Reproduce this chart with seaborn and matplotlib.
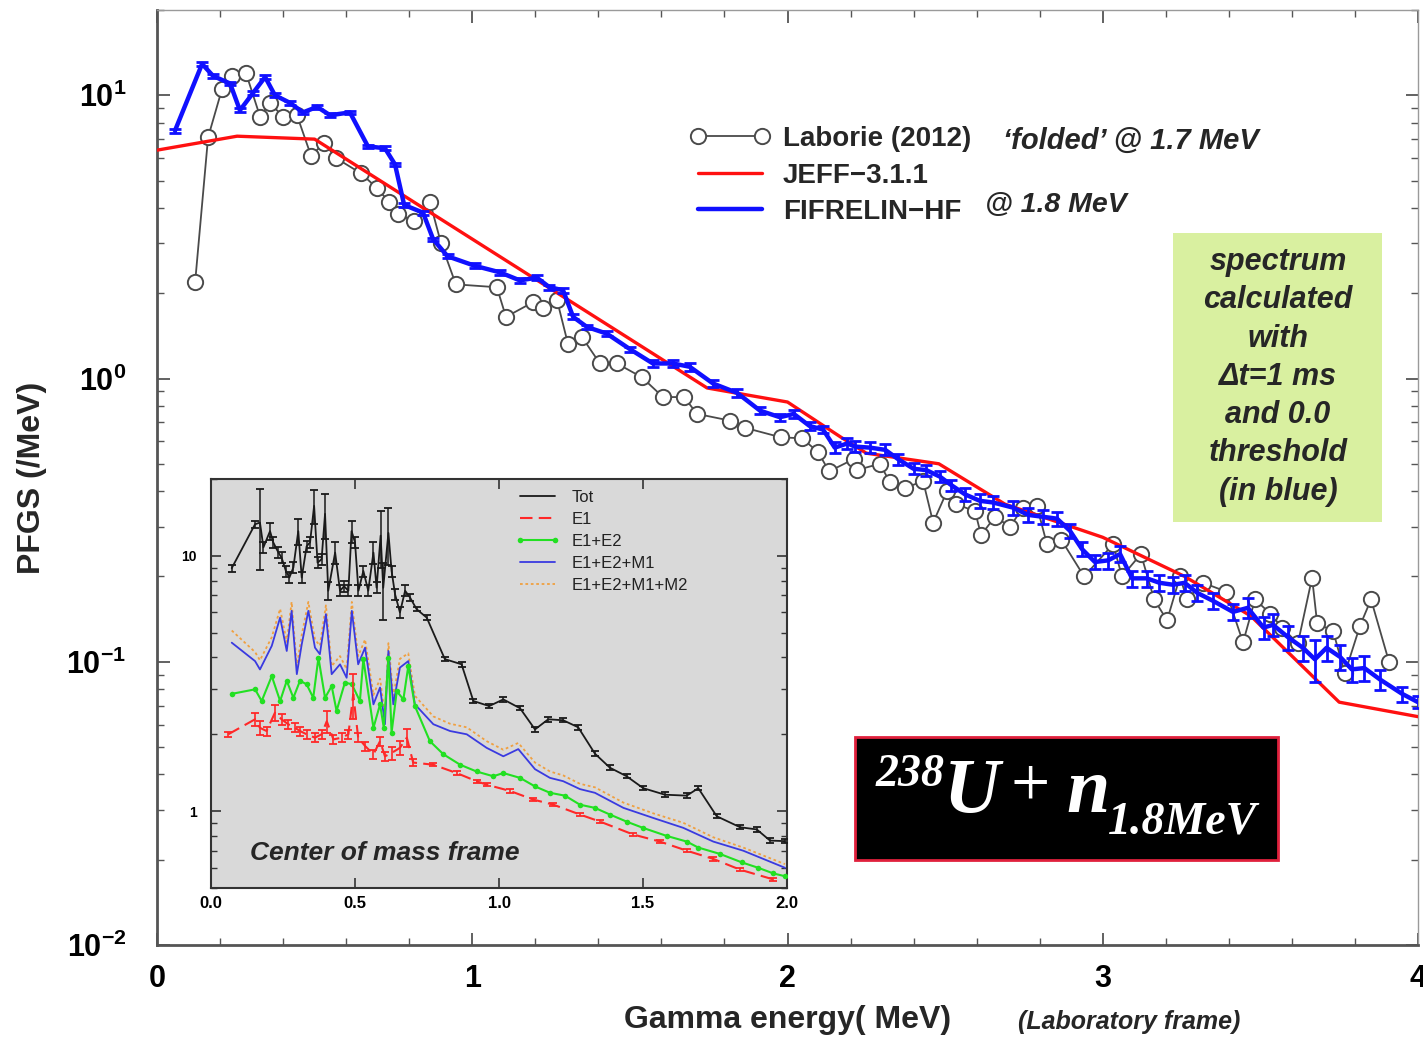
import matplotlib
matplotlib.use("Agg")
import matplotlib.pyplot as plt
import numpy as np
import pandas as pd
import seaborn as sns
from matplotlib.lines import Line2D
from matplotlib.patches import Rectangle
from matplotlib.ticker import FixedLocator, LogLocator, MultipleLocator, NullFormatter

# ---- main panel data (laboratory frame) ----
lab_e = [0.121, 0.162, 0.206, 0.238, 0.282, 0.327, 0.358, 0.400, 0.444, 0.489,
         0.530, 0.568, 0.647, 0.698, 0.736, 0.764, 0.815, 0.866, 0.901, 0.948,
         1.078, 1.107, 1.193, 1.224, 1.269, 1.304, 1.348, 1.405, 1.459, 1.538,
         1.605, 1.672, 1.713, 1.818, 1.865, 1.979, 2.046, 2.097, 2.132, 2.211,
         2.220, 2.293, 2.325, 2.373, 2.430, 2.462, 2.506, 2.535, 2.595, 2.614,
         2.658, 2.706, 2.747, 2.791, 2.823, 2.868, 2.941, 3.033, 3.061, 3.121,
         3.163, 3.204, 3.245, 3.267, 3.318, 3.391, 3.445, 3.483, 3.531, 3.569,
         3.619, 3.664, 3.680, 3.731, 3.768, 3.816, 3.851, 3.908]
lab_v = [2.19, 7.1, 10.5, 11.7, 12.0, 8.4, 9.4, 8.4, 8.5, 6.1,
         6.8, 6.0, 5.3, 4.7, 4.2, 3.8, 3.6, 4.2, 3.0, 2.15,
         2.1, 1.65, 1.86, 1.78, 1.89, 1.32, 1.40, 1.13, 1.13, 1.01,
         0.86, 0.86, 0.75, 0.71, 0.67, 0.62, 0.615, 0.55, 0.47, 0.52,
         0.475, 0.50, 0.43, 0.41, 0.435, 0.31, 0.40, 0.36, 0.34, 0.28,
         0.325, 0.30, 0.35, 0.355, 0.26, 0.27, 0.20, 0.26, 0.20, 0.24,
         0.166, 0.14, 0.20, 0.166, 0.19, 0.177, 0.117, 0.166, 0.148, 0.132,
         0.116, 0.198, 0.137, 0.128, 0.091, 0.134, 0.166, 0.10]

jeff_e = [0.0, 0.254, 0.50, 1.745, 2.0, 2.17, 2.25, 2.48, 2.69, 3.0, 3.26, 3.47, 3.75, 4.0]
jeff_v = [6.4, 7.17, 7.0, 0.926, 0.826, 0.62, 0.545, 0.50, 0.36, 0.275, 0.20, 0.145, 0.072, 0.064]

fif_e = [0.057, 0.143, 0.178, 0.232, 0.263, 0.305, 0.343, 0.374, 0.422, 0.463,
         0.508, 0.549, 0.612, 0.669, 0.723, 0.755, 0.784, 0.844, 0.876, 0.922,
         1.008, 1.088, 1.151, 1.205, 1.245, 1.288, 1.320, 1.364, 1.427, 1.500,
         1.573, 1.637, 1.690, 1.764, 1.840, 1.913, 1.976, 2.020, 2.070, 2.113,
         2.150, 2.190, 2.214, 2.262, 2.310, 2.350, 2.400, 2.440, 2.484, 2.520,
         2.563, 2.610, 2.652, 2.716, 2.763, 2.810, 2.855, 2.896, 2.934, 2.975,
         3.017, 3.055, 3.093, 3.140, 3.180, 3.223, 3.260, 3.300, 3.350, 3.413,
         3.460, 3.510, 3.540, 3.588, 3.635, 3.673, 3.710, 3.753, 3.790, 3.830,
         3.880, 3.950, 4.000]
fif_v = [7.5, 12.9, 11.7, 11.0, 8.85, 10.2, 11.6, 10.0, 9.4, 8.7,
         9.1, 8.5, 8.7, 6.6, 6.5, 5.7, 4.1, 3.85, 3.1, 2.7,
         2.5, 2.37, 2.22, 2.27, 2.1, 2.05, 1.65, 1.52, 1.44, 1.27,
         1.13, 1.13, 1.10, 0.96, 0.89, 0.77, 0.73, 0.75, 0.68, 0.66,
         0.57, 0.59, 0.575, 0.57, 0.56, 0.52, 0.48, 0.475, 0.45, 0.42,
         0.39, 0.37, 0.365, 0.35, 0.33, 0.325, 0.32, 0.29, 0.25, 0.225,
         0.228, 0.24, 0.197, 0.197, 0.19, 0.187, 0.19, 0.175, 0.164, 0.15,
         0.155, 0.132, 0.135, 0.122, 0.112, 0.102, 0.112, 0.104, 0.094, 0.095,
         0.0865, 0.077, 0.072]
# relative uncertainty of the FIFRELIN points
fif_err = [0.015, 0.015, 0.015, 0.015, 0.015, 0.015, 0.015, 0.015, 0.015, 0.015,
           0.015, 0.015, 0.015, 0.015, 0.015, 0.015, 0.015, 0.015, 0.015, 0.015,
           0.02, 0.02, 0.02, 0.02, 0.02, 0.02, 0.02, 0.02, 0.02, 0.02,
           0.03, 0.03, 0.03, 0.03, 0.03, 0.03, 0.03, 0.03, 0.03, 0.03,
           0.045, 0.045, 0.045, 0.045, 0.045, 0.045, 0.045, 0.045, 0.045, 0.045,
           0.055, 0.055, 0.055, 0.055, 0.055, 0.055, 0.055, 0.055, 0.055, 0.055,
           0.065, 0.065, 0.065, 0.065, 0.065, 0.065, 0.065, 0.065, 0.065, 0.065,
           0.08, 0.09, 0.09, 0.10, 0.10, 0.17, 0.10, 0.10, 0.10, 0.10,
           0.08, 0.06, 0.05]

# ---- inset data (center of mass frame) ----
tot_e = [0.072, 0.153, 0.170, 0.182, 0.205, 0.216, 0.234, 0.245, 0.260, 0.272,
         0.286, 0.303, 0.315, 0.332, 0.344, 0.358, 0.370, 0.384, 0.396, 0.407,
         0.431, 0.448, 0.462, 0.477, 0.488, 0.500, 0.512, 0.529, 0.546, 0.564,
         0.575, 0.589, 0.598, 0.616, 0.627, 0.639, 0.656, 0.674, 0.691, 0.714,
         0.749, 0.812, 0.870, 0.911, 0.966, 1.015, 1.073, 1.125, 1.171, 1.223,
         1.275, 1.333, 1.385, 1.443, 1.501, 1.576, 1.652, 1.692, 1.756, 1.837,
         1.895, 1.941, 1.993]
tot_v = [8.95, 13.3, 13.5, 10.8, 12.5, 11.3, 10.3, 9.85, 8.73, 8.22,
         9.0, 12.5, 8.22, 10.9, 11.3, 15.7, 9.4, 9.7, 14.6, 7.3,
         10.3, 7.3, 7.6, 7.3, 12.5, 11.3, 7.3, 8.73, 7.3, 10.3,
         7.5, 12.0, 7.5, 12.3, 8.73, 7.08, 6.0, 7.3, 6.87, 6.18,
         5.73, 3.94, 3.76, 2.70, 2.58, 2.74, 2.53, 2.09, 2.29, 2.27,
         2.13, 1.68, 1.48, 1.37, 1.23, 1.16, 1.15, 1.23, 0.955, 0.865,
         0.848, 0.767, 0.763]
tot_err = [0.03, 0.03, 0.35, 0.05, 0.08, 0.05, 0.05, 0.05, 0.05, 0.05,
           0.05, 0.12, 0.05, 0.05, 0.05, 0.15, 0.05, 0.05, 0.20, 0.08,
           0.10, 0.05, 0.05, 0.05, 0.10, 0.05, 0.05, 0.05, 0.05, 0.10,
           0.05, 0.25, 0.25, 0.25, 0.05, 0.05, 0.05, 0.05, 0.03, 0.02,
           0.02, 0.02, 0.02, 0.02, 0.02, 0.02, 0.02, 0.02, 0.02, 0.02,
           0.02, 0.02, 0.02, 0.02, 0.02, 0.02, 0.02, 0.02, 0.02, 0.02,
           0.02, 0.02, 0.02]

e1_e = [0.060, 0.153, 0.170, 0.193, 0.222, 0.245, 0.268, 0.292, 0.309, 0.332,
        0.361, 0.384, 0.402, 0.425, 0.454, 0.477, 0.494, 0.511, 0.535, 0.564,
        0.587, 0.604, 0.627, 0.656, 0.680, 0.702, 0.772, 0.853, 0.922, 0.957,
        1.038, 1.119, 1.189, 1.281, 1.351, 1.466, 1.559, 1.652, 1.744, 1.837,
        1.953]
e1_v = [2.0, 2.29, 2.12, 2.06, 2.43, 2.29, 2.19, 2.12, 2.06, 2.0,
        1.94, 2.0, 2.25, 1.91, 1.94, 2.0, 2.87, 1.94, 1.80, 1.67,
        1.88, 1.64, 1.69, 1.77, 1.94, 1.55, 1.52, 1.41, 1.31, 1.27,
        1.2, 1.11, 1.06, 0.97, 0.91, 0.81, 0.76, 0.70, 0.65, 0.59,
        0.54]
e1_err = [0.02, 0.06, 0.06, 0.04, 0.07, 0.05, 0.04, 0.04, 0.04, 0.04,
          0.04, 0.04, 0.10, 0.04, 0.04, 0.04, 0.20, 0.04, 0.04, 0.04,
          0.04, 0.04, 0.06, 0.06, 0.08, 0.03, 0.015, 0.015, 0.015, 0.015,
          0.015, 0.015, 0.015, 0.015, 0.015, 0.015, 0.015, 0.015, 0.015, 0.015,
          0.015]

e12_e = [0.072, 0.153, 0.176, 0.211, 0.240, 0.263, 0.286, 0.309, 0.332, 0.355,
         0.373, 0.396, 0.419, 0.436, 0.465, 0.489, 0.517, 0.529, 0.564, 0.587,
         0.600, 0.616, 0.627, 0.645, 0.668, 0.685, 0.708, 0.760, 0.807, 0.865,
         0.922, 0.980, 1.015, 1.073, 1.125, 1.177, 1.229, 1.281, 1.333, 1.385,
         1.443, 1.500, 1.582, 1.652, 1.692, 1.767, 1.843, 1.900, 1.953, 1.993]
e12_v = [2.88, 3.0, 2.7, 3.38, 2.7, 3.24, 2.78, 3.24, 3.14, 2.78,
         3.99, 2.78, 3.09, 2.47, 3.19, 3.14, 2.7, 3.94, 2.12, 2.62,
         2.12, 3.99, 2.03, 2.95, 2.74, 3.7, 2.58, 1.88, 1.67, 1.52,
         1.43, 1.37, 1.41, 1.35, 1.25, 1.18, 1.15, 1.06, 1.03, 0.97,
         0.91, 0.86, 0.80, 0.76, 0.72, 0.68, 0.63, 0.60, 0.57, 0.556]

m1_e = [0.072, 0.153, 0.170, 0.211, 0.240, 0.263, 0.280, 0.298, 0.315, 0.338,
        0.361, 0.378, 0.399, 0.419, 0.448, 0.471, 0.489, 0.511, 0.535, 0.564,
        0.587, 0.604, 0.616, 0.633, 0.656, 0.685, 0.708, 0.772, 0.830, 0.888,
        0.957, 1.015, 1.067, 1.125, 1.177, 1.223, 1.281, 1.333, 1.432, 1.536,
        1.640, 1.744, 1.848, 1.993]
m1_v = [4.57, 3.87, 3.59, 4.44, 5.73, 4.24, 6.09, 3.44, 4.5, 6.09,
        4.37, 4.12, 5.91, 3.44, 3.76, 3.33, 6.09, 3.76, 4.37, 2.62,
        3.05, 2.19, 4.24, 2.62, 3.65, 3.87, 2.62, 2.19, 2.06, 2.0,
        1.77, 1.64, 1.75, 1.46, 1.35, 1.31, 1.22, 1.18, 1.03, 0.94,
        0.86, 0.76, 0.70, 0.60]
m2_v = [5.1, 4.2, 3.9, 4.8, 6.2, 4.6, 6.6, 3.7, 4.9, 6.6,
        4.7, 4.45, 6.4, 3.7, 4.05, 3.6, 6.6, 4.05, 4.7, 2.85,
        3.3, 2.37, 4.55, 2.83, 3.95, 4.15, 2.83, 2.35, 2.2, 2.13,
        1.88, 1.74, 1.85, 1.55, 1.43, 1.38, 1.28, 1.24, 1.08, 0.98,
        0.9, 0.79, 0.72, 0.62]

lab = pd.DataFrame({"E": lab_e, "v": lab_v})
jeff = pd.DataFrame({"E": jeff_e, "v": jeff_v})
fif = pd.DataFrame({"E": fif_e, "v": fif_v, "rel": fif_err})
tot = pd.DataFrame({"E": tot_e, "v": tot_v, "rel": tot_err})
e1 = pd.DataFrame({"E": e1_e, "v": e1_v, "rel": e1_err})
e12 = pd.DataFrame({"E": e12_e, "v": e12_v})
m1 = pd.DataFrame({"E": m1_e, "v": m1_v})
m2 = pd.DataFrame({"E": m1_e, "v": m2_v})

sns.set_style("ticks")
plt.rcParams["font.family"] = ["Liberation Sans", "DejaVu Sans"]
plt.rcParams["mathtext.fontset"] = "custom"
plt.rcParams["mathtext.rm"] = "Liberation Sans:bold"
plt.rcParams["mathtext.bf"] = "Liberation Sans:bold"
plt.rcParams["mathtext.it"] = "Liberation Sans:italic:bold"

W, H = 1423, 1038
fig = plt.figure(figsize=(W / 100, H / 100), dpi=100)
fig.patch.set_facecolor("white")


def fx(x):
    return x / W


def fy(y):
    return 1 - y / H


# ---------------- main axes ----------------
ax = fig.add_axes([fx(157), fy(945), (1418 - 157) / W, (945 - 10) / H])
ax.set_yscale("log")

sns.lineplot(data=lab, x="E", y="v", ax=ax, sort=False, estimator=None, color="#4a4a4a",
             linewidth=1.3, marker="o", markersize=11, markerfacecolor="white",
             markeredgecolor="#4a4a4a", markeredgewidth=1.4, legend=False, zorder=3)
sns.lineplot(data=jeff, x="E", y="v", ax=ax, sort=False, estimator=None, color="#ff1010",
             linewidth=2.4, legend=False, zorder=4)
sns.lineplot(data=fif, x="E", y="v", ax=ax, sort=False, estimator=None, color="#1010ff",
             linewidth=3.2, legend=False, zorder=5)
ax.errorbar(fif["E"], fif["v"], yerr=fif["v"] * fif["rel"], fmt="none", ecolor="#1010ff",
            elinewidth=2.0, capsize=4, capthick=2.0, zorder=5)

ax.set_xlim(0, 4)
ax.set_ylim(0.01, 20)
ax.xaxis.set_major_locator(FixedLocator([0, 1, 2, 3, 4]))
ax.xaxis.set_minor_locator(MultipleLocator(0.2))
ax.set_xticklabels(["0", "1", "2", "3", "4"], fontsize=22, fontweight="bold")
ax.yaxis.set_major_locator(FixedLocator([0.01, 0.1, 1, 10]))
ax.yaxis.set_minor_locator(LogLocator(base=10, subs=np.arange(2, 10)))
ax.yaxis.set_minor_formatter(NullFormatter())
ax.set_yticklabels([r"$10^{-2}$", r"$10^{-1}$", r"$10^{0}$", r"$10^{1}$"], fontsize=22)
ax.tick_params(axis="both", which="major", direction="in", length=9, width=1.3,
               top=True, right=True, colors="#555555", labelcolor="black")
ax.tick_params(axis="both", which="minor", direction="in", length=5, width=1.0,
               top=True, right=True, colors="#555555")
ax.tick_params(axis="y", which="major", pad=22)
ax.tick_params(axis="x", which="major", pad=14)
ax.set_xlabel("")
ax.set_ylabel("")
for side in ["left", "bottom"]:
    ax.spines[side].set_color("#555555")
    ax.spines[side].set_linewidth(2.0)
for side in ["top", "right"]:
    ax.spines[side].set_color("#9a9a9a")
    ax.spines[side].set_linewidth(1.0)

fig.text(fx(32), fy(478), "PFGS (/MeV)", rotation=90, ha="center", va="center",
         fontsize=23, fontweight="bold")
fig.text(fx(788), fy(1020), "Gamma energy( MeV)", ha="center", va="center",
         fontsize=23, fontweight="bold")
fig.text(fx(1129), fy(1022), "(Laboratory frame)", ha="center", va="center",
         fontsize=18, fontweight="bold", style="italic")

# main legend
handles = [
    Line2D([], [], color="#4a4a4a", lw=1.3, marker="o", markersize=11,
           markerfacecolor="white", markeredgecolor="#4a4a4a", markeredgewidth=1.4),
    Line2D([], [], color="#ff1010", lw=2.4),
    Line2D([], [], color="#1010ff", lw=3.2),
]
leg = ax.legend(handles, ["Laborie (2012)", "JEFF\u22123.1.1", "FIFRELIN\u2212HF"],
                loc="upper left", bbox_to_anchor=((690 - 157) / 1261, (945 - 126) / 935),
                frameon=False, numpoints=2, handlelength=2.9, handletextpad=0.45,
                labelspacing=0.38, borderpad=0, borderaxespad=0,
                prop={"size": 20, "weight": "bold"})
fig.text(fx(1003), fy(141), "\u2018folded\u2019 @ 1.7 MeV", ha="left", va="center",
         fontsize=21, fontweight="bold", style="italic")
fig.text(fx(985), fy(205), "@ 1.8 MeV", ha="left", va="center",
         fontsize=20.5, fontweight="bold", style="italic")

# green note box
fig.patches.append(Rectangle((fx(1173), fy(522)), (1382 - 1173) / W, (522 - 233) / H,
                             transform=fig.transFigure, facecolor="#d9f0a0",
                             edgecolor="none", zorder=1))
note_lines = ["spectrum", "calculated", "with", "\u0394t=1 ms", "and 0.0", "threshold", "(in blue)"]
for i, line in enumerate(note_lines):
    fig.text(fx(1278), fy(262 + 38.3 * i), line, ha="center", va="center",
             fontsize=22, fontweight="bold", style="italic", zorder=2)

# reaction box
fig.patches.append(Rectangle((fx(855), fy(860)), (1278 - 855) / W, (860 - 737) / H,
                             transform=fig.transFigure, facecolor="black",
                             edgecolor="#e0203c", linewidth=2, zorder=1))
serif = {"family": "Liberation Serif", "weight": "bold", "style": "italic", "color": "white"}
fig.text(fx(876), fy(786), "238", ha="left", va="baseline", fontsize=33, zorder=2, **serif)
fig.text(fx(944), fy(812), "U", ha="left", va="baseline", fontsize=56, zorder=2, **serif)
fig.text(fx(1010), fy(806), "+", ha="left", va="baseline", fontsize=50, zorder=2,
         family="Liberation Serif", color="white")
fig.text(fx(1066), fy(812), "n", ha="left", va="baseline", fontsize=56, zorder=2, **serif)
fig.text(fx(1108), fy(834), "1.8MeV", ha="left", va="baseline", fontsize=33, zorder=2, **serif)

# ---------------- inset axes ----------------
ins = fig.add_axes([fx(211), fy(888), (787 - 211) / W, (888 - 479) / H])
ins.set_facecolor("#d9d9d9")
ins.set_yscale("log")

sns.lineplot(data=tot, x="E", y="v", ax=ins, sort=False, estimator=None, color="#1a1a1a",
             linewidth=1.3, legend=False, zorder=5)
ins.errorbar(tot["E"], tot["v"], yerr=tot["v"] * tot["rel"], fmt="none", ecolor="#1a1a1a",
             elinewidth=1.1, capsize=3, capthick=1.3, zorder=5)
sns.lineplot(data=m2, x="E", y="v", ax=ins, sort=False, estimator=None, color="#f0a040",
             linewidth=1.3, linestyle=(0, (1.5, 1.5)), legend=False, zorder=2)
sns.lineplot(data=m1, x="E", y="v", ax=ins, sort=False, estimator=None, color="#3a3ae0",
             linewidth=1.3, legend=False, zorder=3)
sns.lineplot(data=e12, x="E", y="v", ax=ins, sort=False, estimator=None, color="#22e022",
             linewidth=1.5, marker="o", markersize=4, markerfacecolor="#22e022",
             markeredgecolor="#22e022", markeredgewidth=0, legend=False, zorder=4)
sns.lineplot(data=e1, x="E", y="v", ax=ins, sort=False, estimator=None, color="#ff2828",
             linewidth=1.5, linestyle=(0, (6, 3)), legend=False, zorder=4)
ins.errorbar(e1["E"], e1["v"], yerr=e1["v"] * e1["rel"], fmt="none", ecolor="#ff2828",
             elinewidth=1.2, capsize=3, capthick=1.3, zorder=4)

ins.set_xlim(0, 2)
ins.set_ylim(0.5, 20)
ins.xaxis.set_major_locator(FixedLocator([0, 0.5, 1.0, 1.5, 2.0]))
ins.set_xticklabels(["0.0", "0.5", "1.0", "1.5", "2.0"], fontsize=12, fontweight="bold")
ins.yaxis.set_major_locator(FixedLocator([1, 10]))
ins.yaxis.set_minor_locator(LogLocator(base=10, subs=np.arange(2, 10)))
ins.yaxis.set_minor_formatter(NullFormatter())
ins.set_yticklabels(["1", "10"], fontsize=10, fontweight="bold")
ins.tick_params(axis="both", which="major", direction="in", length=7, width=1.2,
                top=True, right=True, colors="#333333", labelcolor="black")
ins.tick_params(axis="both", which="minor", direction="in", length=4, width=1.0,
                top=True, right=True, colors="#333333")
ins.tick_params(axis="y", which="major", pad=10)
ins.tick_params(axis="x", which="major", pad=6)
ins.set_xlabel("")
ins.set_ylabel("")
for side in ins.spines:
    ins.spines[side].set_color("#333333")
    ins.spines[side].set_linewidth(1.5)

ins_handles = [
    Line2D([], [], color="#1a1a1a", lw=1.3),
    Line2D([], [], color="#ff2828", lw=1.5, linestyle=(0, (6, 3))),
    Line2D([], [], color="#22e022", lw=1.5, marker="o", markersize=4, markeredgewidth=0),
    Line2D([], [], color="#3a3ae0", lw=1.3),
    Line2D([], [], color="#f0a040", lw=1.3, linestyle=(0, (1.5, 1.5))),
]
ins.legend(ins_handles, ["Tot", "E1", "E1+E2", "E1+E2+M1", "E1+E2+M1+M2"],
           loc="upper left", bbox_to_anchor=((515 - 211) / 576, (888 - 490) / 409),
           frameon=False, numpoints=2, handlelength=2.7, handletextpad=0.7,
           labelspacing=0.42, borderpad=0, borderaxespad=0,
           prop={"size": 12}, labelcolor="#222222")
ins.text((250 - 211) / 576, (888 - 853) / 409, "Center of mass frame", transform=ins.transAxes,
         ha="left", va="center", fontsize=19, fontweight="bold", style="italic")

fig.savefig("out.png", dpi=100)
